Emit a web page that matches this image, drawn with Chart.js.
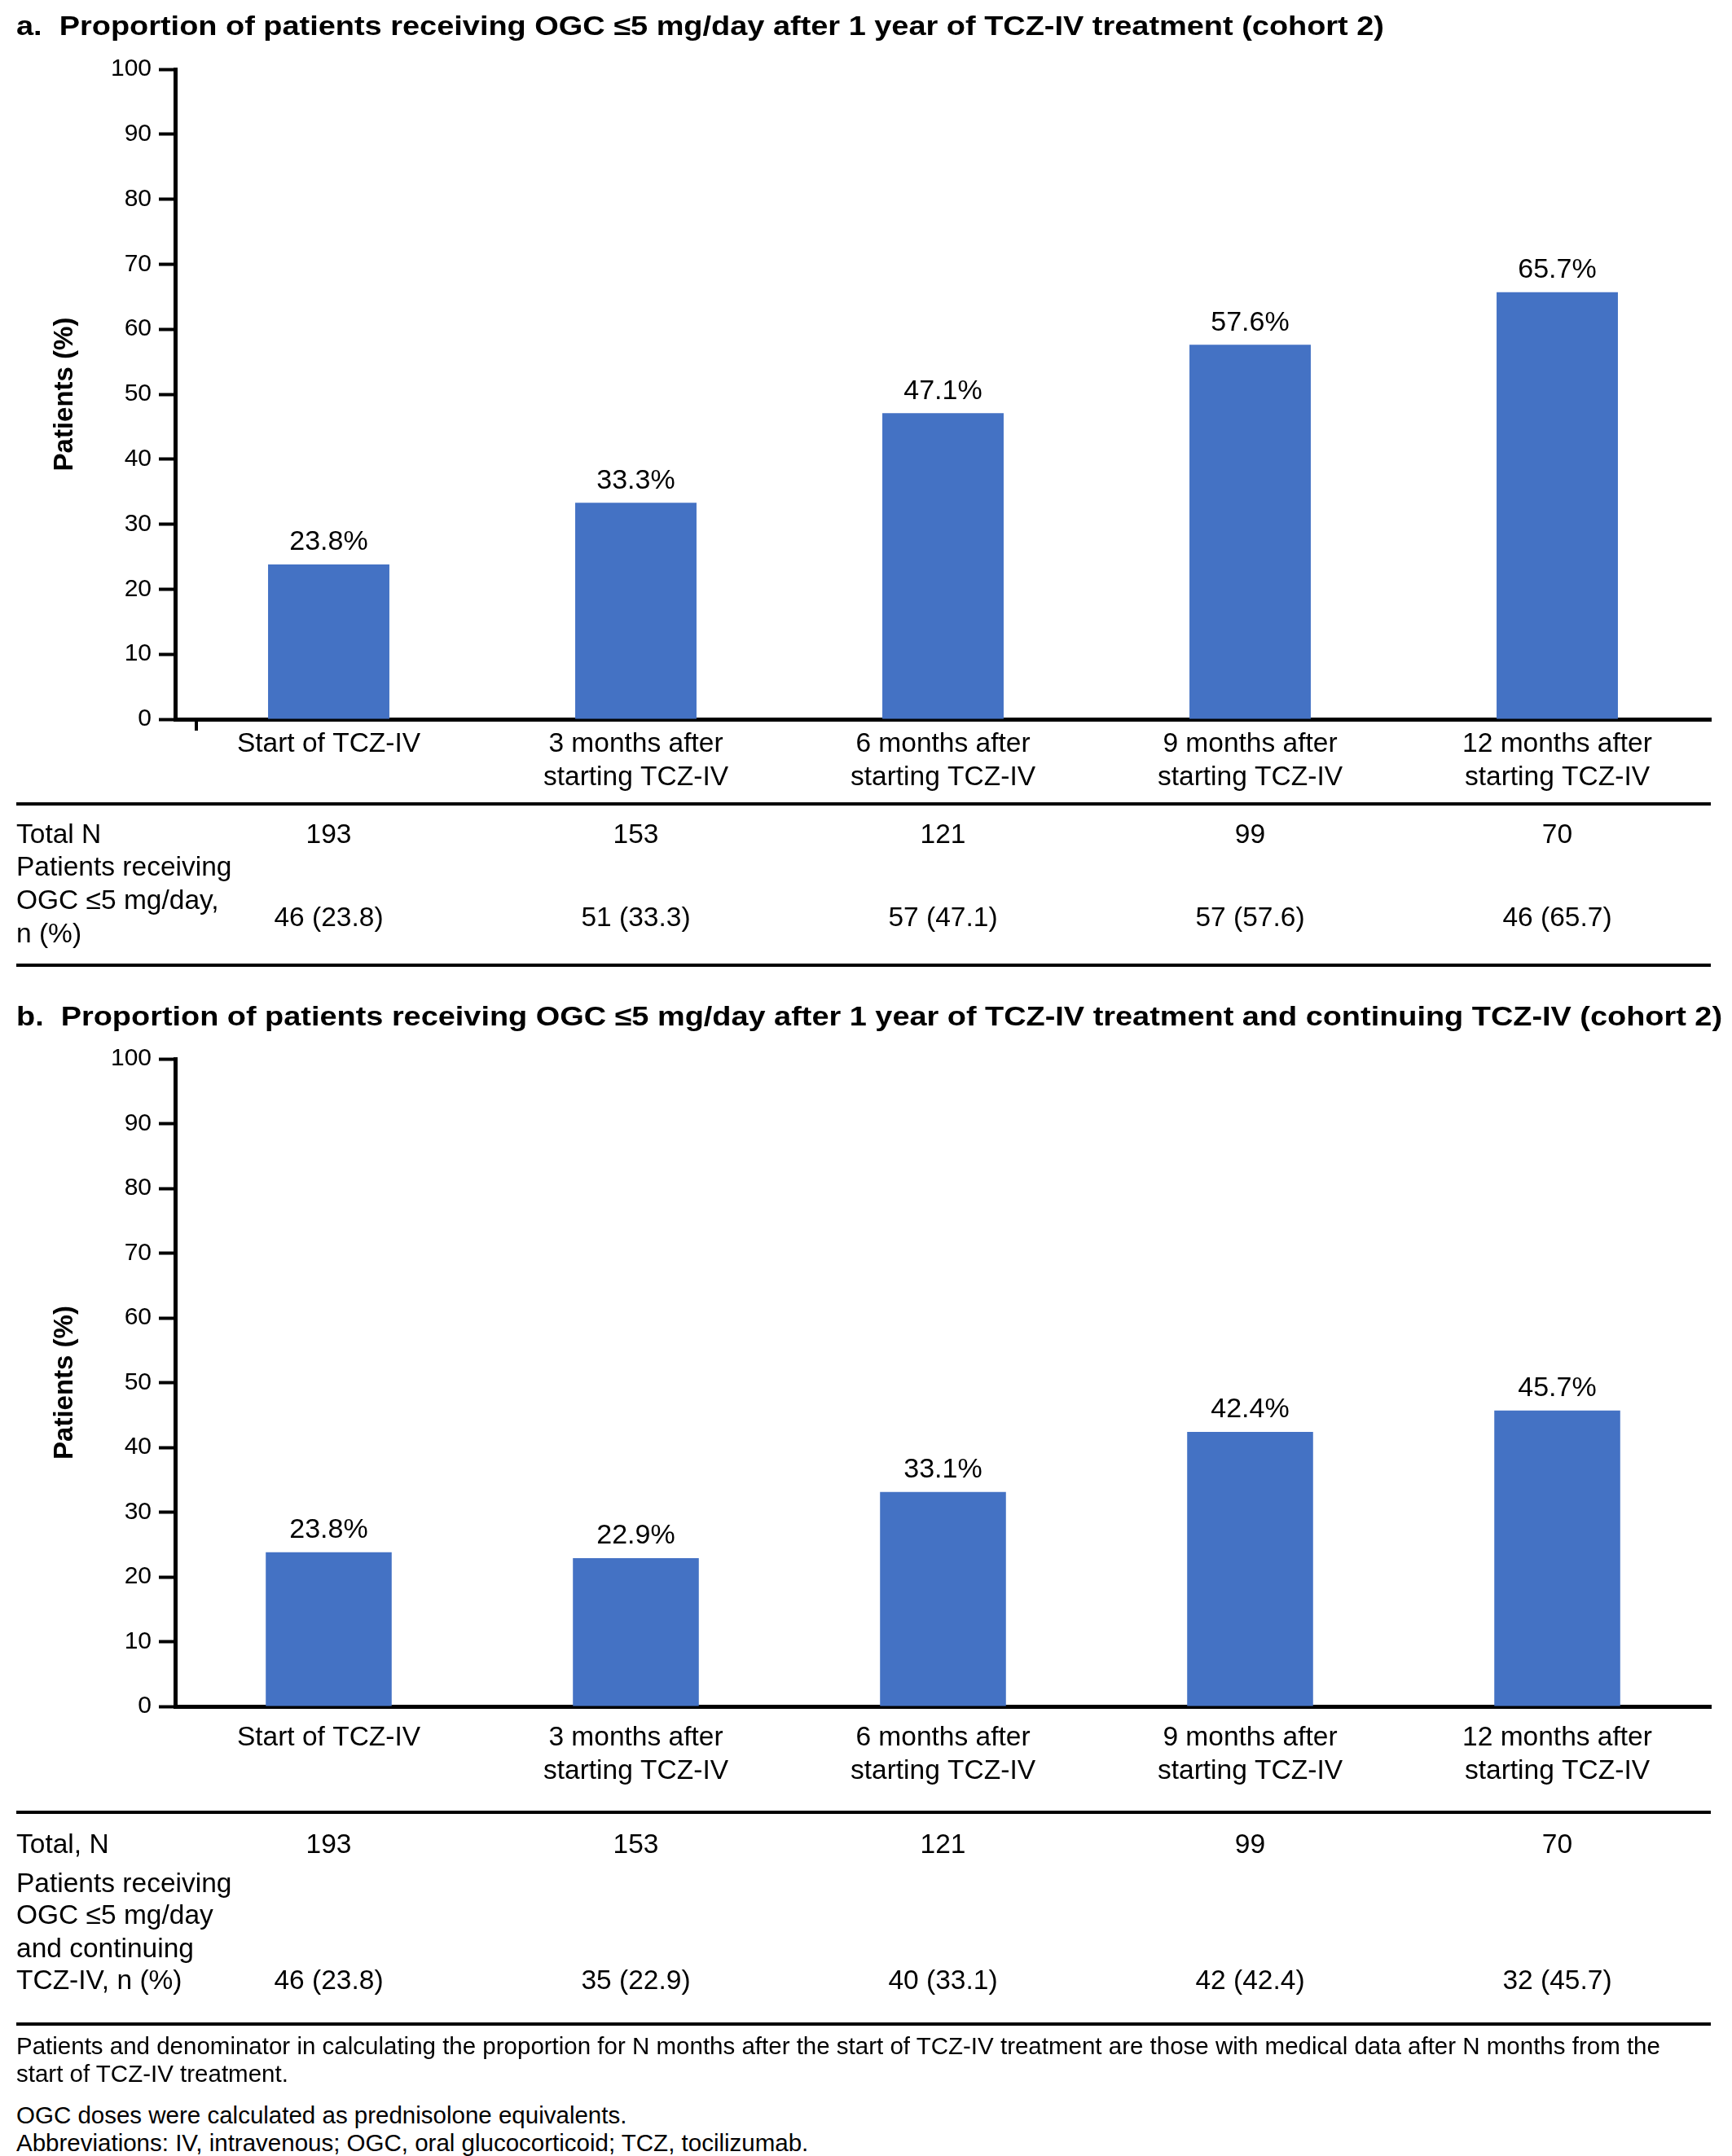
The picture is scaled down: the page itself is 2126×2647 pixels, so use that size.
<!DOCTYPE html>
<html>
<head>
<meta charset="utf-8">
<script src="https://cdn.jsdelivr.net/npm/chart.js@4.4.0/dist/chart.umd.min.js"></script>
<style>
  body { margin: 0; background: #fff; width: 2126px; height: 2647px; position: relative;
         font-family: "Liberation Sans", Arial, sans-serif; color: #000; }
  canvas { position: absolute; left: 0; }
  #chartA { top: 0; }
  #chartB { top: 1200px; }
  .note { position: absolute; left: 20px; font-size: 29.5px; line-height: 34px; white-space: nowrap; }
</style>
</head>
<body>
<canvas id="chartA" width="2126" height="1200"></canvas>
<canvas id="chartB" width="2126" height="1300"></canvas>
<div class="note" style="top:2495px">Patients and denominator in calculating the proportion for N months after the start of TCZ-IV treatment are those with medical data after N months from the<br>start of TCZ-IV treatment.</div>
<div class="note" style="top:2580px">OGC doses were calculated as prednisolone equivalents.<br>Abbreviations: IV, intravenous; OGC, oral glucocorticoid; TCZ, tocilizumab.</div>
<script>
// data
const timepoints = [
  ["Start of TCZ-IV"],
  ["3 months after", "starting TCZ-IV"],
  ["6 months after", "starting TCZ-IV"],
  ["9 months after", "starting TCZ-IV"],
  ["12 months after", "starting TCZ-IV"]
];
const totalN = [193, 153, 121, 99, 70];
const pctA = [23.8, 33.3, 47.1, 57.6, 65.7];
const nA = [46, 51, 57, 57, 46];
const pctB = [23.8, 22.9, 33.1, 42.4, 45.7];
const nB = [46, 35, 40, 42, 32];

const titleA = "a.  Proportion of patients receiving OGC \u22645 mg/day after 1 year of TCZ-IV treatment (cohort 2)";
const titleB = "b.  Proportion of patients receiving OGC \u22645 mg/day after 1 year of TCZ-IV treatment and continuing TCZ-IV (cohort 2)";
const yTitle = "Patients (%)";

const FONT = '"Liberation Sans", Arial, sans-serif';
const BLUE = "#4472C4";
const TXT = 33.5;

// draws the panel title, y title, value labels and the table under the axis
const panelPlugin = {
  id: "panel",
  afterDraw(chart, args, opts) {
    const ctx = chart.ctx;
    const area = chart.chartArea;
    const xs = chart.scales.x;
    ctx.save();
    ctx.fillStyle = "#000";

    // panel title, stretched a little to the width of the original
    ctx.save();
    ctx.font = "bold 33px " + FONT;
    ctx.textAlign = "left";
    ctx.textBaseline = "middle";
    const w = ctx.measureText(opts.title).width;
    ctx.translate(20, opts.titleY);
    ctx.scale(opts.titleW / w, 1);
    ctx.fillText(opts.title, 0, 0);
    ctx.restore();

    // y axis title
    ctx.save();
    ctx.translate(80, (area.top + area.bottom) / 2);
    ctx.rotate(-Math.PI / 2);
    ctx.textAlign = "center";
    ctx.textBaseline = "middle";
    ctx.font = "bold 33px " + FONT;
    ctx.fillText(yTitle, 0, 0);
    ctx.restore();

    // value labels above the bars
    ctx.font = "34px " + FONT;
    ctx.textAlign = "center";
    ctx.textBaseline = "bottom";
    const meta = chart.getDatasetMeta(0);
    meta.data.forEach((bar, i) => {
      const v = chart.data.datasets[0].data[i];
      ctx.fillText(v.toFixed(1) + "%", bar.x, bar.y - 10);
    });

    // stray tick below the x axis
    if (opts.extraTick) {
      ctx.strokeStyle = "#000";
      ctx.lineWidth = 4;
      ctx.beginPath();
      ctx.moveTo(area.left + 26, area.bottom);
      ctx.lineTo(area.left + 26, area.bottom + 14);
      ctx.stroke();
    }

    // table
    const t = opts.table;
    ctx.strokeStyle = "#000";
    ctx.lineWidth = 4;
    [t.top, t.bottom].forEach(y => {
      ctx.beginPath();
      ctx.moveTo(20, y);
      ctx.lineTo(2100, y);
      ctx.stroke();
    });
    ctx.font = TXT + "px " + FONT;
    ctx.textBaseline = "middle";
    ctx.textAlign = "left";
    t.labels.forEach(l => ctx.fillText(l.text, 20, l.y));
    ctx.textAlign = "center";
    t.rows.forEach(r => {
      r.values.forEach((s, i) => ctx.fillText(s, xs.getPixelForValue(i), r.y));
    });
    ctx.restore();
  }
};

function makeChart(id, values, cfg) {
  return new Chart(document.getElementById(id), {
    type: "bar",
    data: {
      labels: timepoints,
      datasets: [{
        data: values,
        backgroundColor: BLUE,
        borderWidth: 0,
        categoryPercentage: 1,
        barPercentage: cfg.barPct
      }]
    },
    options: {
      responsive: false,
      animation: false,
      devicePixelRatio: 1,
      layout: { padding: { left: 0, right: 26, top: cfg.top, bottom: cfg.bottomPad } },
      plugins: {
        legend: { display: false },
        tooltip: { enabled: false },
        panel: cfg.panel
      },
      scales: {
        x: {
          grid: { display: false },
          border: { display: true, color: "#000", width: 5 },
          ticks: { color: "#000", font: { family: FONT, size: TXT, lineHeight: 1.22 },
                   padding: cfg.tickPad, maxRotation: 0, autoSkip: false },
          afterFit: s => { s.height = 150; }
        },
        y: {
          min: 0, max: 100,
          ticks: { stepSize: 10, color: "#000", font: { family: FONT, size: 30 }, padding: 9 },
          grid: { display: true, drawOnChartArea: false, drawTicks: true, tickLength: 20,
                  tickWidth: 4, tickColor: "#000", color: "#000" },
          border: { display: true, color: "#000", width: 5 },
          afterFit: s => { s.width = 215; }
        }
      }
    },
    plugins: [panelPlugin]
  });
}

makeChart("chartA", pctA, {
  barPct: 0.395, top: 85, bottomPad: 1200 - 883 - 150, tickPad: 2,
  panel: {
    title: titleA, titleY: 34, titleW: 1679, extraTick: true,
    table: {
      top: 987, bottom: 1185,
      labels: [
        { text: "Total N", y: 1026 },
        { text: "Patients receiving", y: 1066 },
        { text: "OGC \u22645 mg/day,", y: 1107 },
        { text: "n (%)", y: 1148 }
      ],
      rows: [
        { y: 1026, values: totalN.map(String) },
        { y: 1128, values: nA.map((n, i) => n + " (" + pctA[i].toFixed(1) + ")") }
      ]
    }
  }
});

makeChart("chartB", pctB, {
  barPct: 0.41, top: 100, bottomPad: 1300 - 895 - 150, tickPad: 10,
  panel: {
    title: titleB, titleY: 50, titleW: 2094, extraTick: false,
    table: {
      top: 1025, bottom: 1285,
      labels: [
        { text: "Total, N", y: 1066 },
        { text: "Patients receiving", y: 1114 },
        { text: "OGC \u22645 mg/day", y: 1153 },
        { text: "and continuing", y: 1194 },
        { text: "TCZ-IV, n (%)", y: 1233 }
      ],
      rows: [
        { y: 1066, values: totalN.map(String) },
        { y: 1233, values: nB.map((n, i) => n + " (" + pctB[i].toFixed(1) + ")") }
      ]
    }
  }
});
</script>
</body>
</html>
